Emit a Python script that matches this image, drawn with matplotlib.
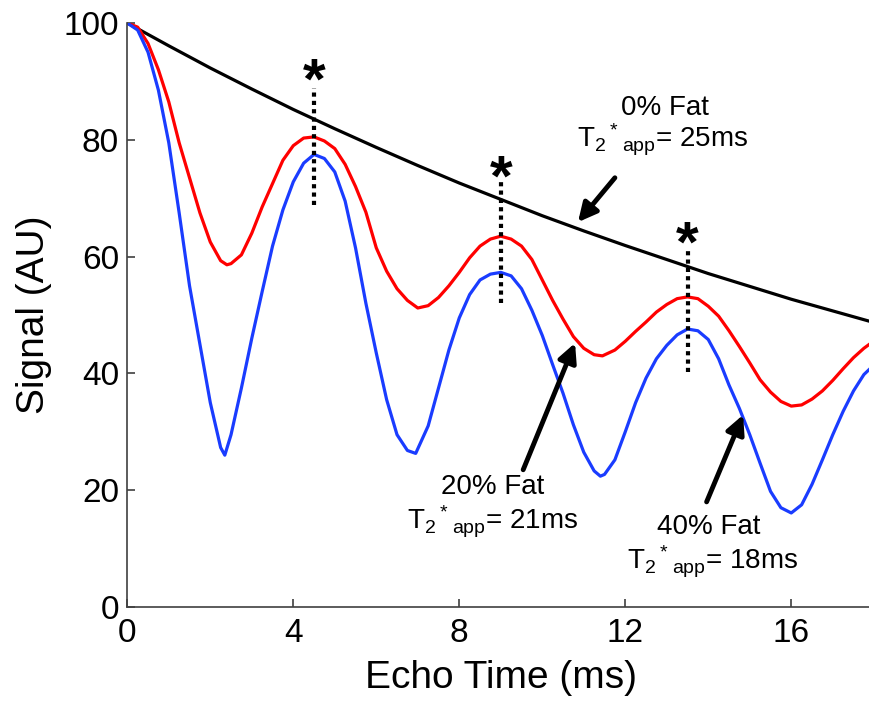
import numpy as np
import matplotlib
matplotlib.use("Agg")
import matplotlib.pyplot as plt

plt.rcParams['font.family'] = ['Liberation Sans', 'DejaVu Sans']
plt.rcParams['mathtext.fontset'] = 'custom'
plt.rcParams['mathtext.rm'] = 'Liberation Sans'
plt.rcParams['mathtext.default'] = 'regular'

# echo times (ms) and signal values
te_fat0 = [0, 1, 2, 3, 4, 5, 6, 7, 8, 9, 10, 11, 12, 13, 14, 15, 16, 17, 18]
sig_fat0 = [100, 96.1, 92.3, 88.7, 85.2, 81.9, 78.7, 75.6, 72.6, 69.8,
            67.0, 64.4, 61.9, 59.5, 57.1, 54.9, 52.7, 50.7, 48.7]

te_fat20 = [0, 0.25, 0.5, 0.75, 1.0, 1.25, 1.5, 1.75, 2.0, 2.25, 2.4, 2.5, 2.75,
            3.0, 3.25, 3.5, 3.75, 4.0, 4.25, 4.5, 4.75, 5.0, 5.25, 5.5, 5.75,
            6.0, 6.25, 6.5, 6.75, 7.0, 7.25, 7.5, 7.75, 8.0, 8.25, 8.5, 8.75,
            9.0, 9.25, 9.5, 9.75, 10.0, 10.25, 10.5, 10.75, 11.0, 11.25, 11.45,
            11.75, 12.0, 12.25, 12.5, 12.75, 13.0, 13.25, 13.5, 13.75, 14.0,
            14.25, 14.5, 14.75, 15.0, 15.25, 15.5, 15.75, 16.0, 16.25, 16.5,
            16.75, 17.0, 17.25, 17.5, 17.75, 18.0]
sig_fat20 = [100, 99.3, 96.5, 92.0, 86.5, 79.5, 73.5, 67.5, 62.5, 59.3, 58.6, 58.8, 60.3,
             64.0, 68.5, 72.5, 76.5, 79.0, 80.3, 80.5, 79.8, 78.5, 75.8, 72.0, 67.6,
             61.5, 57.5, 54.5, 52.5, 51.2, 51.6, 53.0, 55.0, 57.3, 59.8, 61.8, 63.0,
             63.5, 63.0, 61.8, 59.5, 56.0, 52.5, 49.3, 46.3, 44.3, 43.2, 43.0,
             44.0, 45.5, 47.2, 48.8, 50.5, 51.8, 52.8, 53.1, 52.8, 51.5,
             49.8, 47.3, 44.6, 41.8, 38.9, 36.8, 35.2, 34.4, 34.6, 35.6,
             37.0, 38.8, 40.8, 42.7, 44.3, 45.6]

te_fat40 = [0, 0.25, 0.5, 0.75, 1.0, 1.25, 1.5, 1.75, 2.0, 2.25, 2.35, 2.5, 2.75,
            3.0, 3.25, 3.5, 3.75, 4.0, 4.25, 4.5, 4.75, 5.0, 5.25, 5.5, 5.75,
            6.0, 6.25, 6.5, 6.75, 6.95, 7.25, 7.5, 7.75, 8.0, 8.25, 8.5, 8.75,
            9.0, 9.25, 9.5, 9.75, 10.0, 10.25, 10.5, 10.75, 11.0, 11.25, 11.4,
            11.5, 11.75, 12.0, 12.25, 12.5, 12.75, 13.0, 13.25, 13.5, 13.75, 14.0,
            14.25, 14.5, 14.75, 15.0, 15.25, 15.5, 15.75, 16.0, 16.25, 16.5,
            16.75, 17.0, 17.25, 17.5, 17.75, 18.0]
sig_fat40 = [100, 98.8, 95.0, 88.5, 79.5, 67.5, 55.0, 45.0, 35.0, 27.3, 26.0, 29.5, 37.5,
             46.0, 54.0, 61.8, 68.0, 72.8, 76.0, 77.5, 76.8, 74.5, 69.5, 61.5, 52.0,
             43.5, 35.5, 29.5, 26.8, 26.3, 31.0, 37.5, 44.0, 49.5, 53.5, 56.0, 57.0,
             57.3, 56.7, 54.5, 50.8, 46.5, 41.5, 36.6, 31.2, 26.5, 23.3, 22.4,
             22.7, 25.2, 30.0, 35.0, 39.2, 42.5, 44.8, 46.6, 47.6, 47.3, 45.8,
             42.5, 38.0, 34.0, 29.5, 24.6, 19.8, 17.0, 16.1, 17.5, 21.0,
             25.2, 29.5, 33.5, 37.0, 39.8, 41.5]

# in-phase echoes marked with asterisks: (te, bottom, top, star height)
in_phase_te = [4.5, 9.0, 13.5]
in_phase_lo = [68.8, 52.0, 40.2]
in_phase_hi = [88.9, 73.1, 61.1]
star_y = [89.6, 73.1, 61.8]


def main():
    fig = plt.figure(figsize=(8.7, 7.13), dpi=100)
    ax = fig.add_axes([0.1463, 0.1487, 0.8586, 0.819])

    ax.plot(te_fat0, sig_fat0, color='black', lw=2.3)
    ax.plot(te_fat20, sig_fat20, color='#ff0000', lw=2.3)
    ax.plot(te_fat40, sig_fat40, color='#1a3cff', lw=2.3)

    for t, lo, hi, sy in zip(in_phase_te, in_phase_lo, in_phase_hi, star_y):
        ax.plot([t, t], [lo, hi], color='black', lw=3, linestyle=(0, (1, 1)))
        ax.text(t, sy, '*', ha='center', va='center', fontsize=42,
                fontweight='bold')

    txt = dict(ha='center', va='center', fontsize=20)
    ax.text(12.96, 85.4, '0% Fat', **txt)
    ax.text(12.9, 80.0, r'T$_2{}^*{}_{app}$= 25ms', **txt)
    ax.text(8.8, 20.5, '20% Fat', **txt)
    ax.text(8.8, 14.6, r'T$_2{}^*{}_{app}$= 21ms', **txt)
    ax.text(14.0, 13.7, '40% Fat', **txt)
    ax.text(14.1, 7.7, r'T$_2{}^*{}_{app}$= 18ms', **txt)

    arrow = dict(arrowstyle='-|>', lw=3.5, color='black', mutation_scale=28,
                 shrinkA=0, shrinkB=0)
    ax.annotate('', xy=(10.86, 65.9), xytext=(11.75, 73.5), arrowprops=arrow)
    ax.annotate('', xy=(10.79, 45.2), xytext=(9.54, 23.5), arrowprops=arrow)
    ax.annotate('', xy=(14.84, 32.9), xytext=(13.96, 18.0), arrowprops=arrow)

    ax.set_xlim(0, 18)
    ax.set_ylim(0, 100)
    ax.set_xticks([0, 4, 8, 12, 16])
    ax.set_yticks([0, 20, 40, 60, 80, 100])
    ax.spines['top'].set_visible(False)
    ax.spines['right'].set_visible(False)
    for s in ['left', 'bottom']:
        ax.spines[s].set_color('#404040')
        ax.spines[s].set_linewidth(1.2)
    ax.tick_params(direction='in', length=6, width=1.2, color='#404040',
                   labelsize=24)
    ax.tick_params(axis='x', pad=8)
    ax.tick_params(axis='y', pad=6)

    ax.set_xlabel('Echo Time (ms)', fontsize=28, labelpad=8)
    ax.set_ylabel('Signal (AU)', fontsize=28, labelpad=8)

    fig.savefig('out.png', dpi=100)


if __name__ == "__main__":
    main()
